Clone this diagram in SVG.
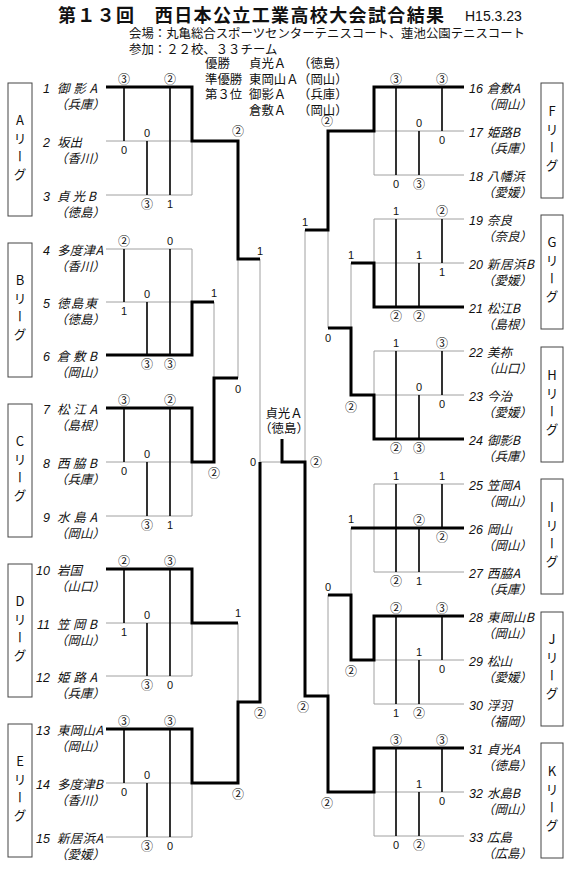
<svg xmlns="http://www.w3.org/2000/svg" width="570" height="872" viewBox="0 0 570 872">
<style>
.g{stroke:#a0a0a0;stroke-width:1;fill:none}
.k{stroke:#000;stroke-width:3;fill:none;stroke-linejoin:miter}
.m{stroke:#000;stroke-width:1.6;fill:none}
.bx{fill:#fff;stroke:#444;stroke-width:1}
text{fill:#111}
.h{font-family:"Noto Sans CJK JP",sans-serif;font-size:12.4px}
.ti{font-family:"Noto Sans CJK JP",sans-serif;font-size:18px;font-weight:bold}
.dt{font-family:"Liberation Sans",sans-serif;font-size:14px}
.nm{font-family:"Noto Sans CJK JP",sans-serif;font-size:12.5px;font-style:italic}
.no{font-family:"Liberation Sans",sans-serif;font-size:12.5px;font-style:italic}
.nl{text-anchor:end}
.ct{text-anchor:middle}
.c{font-family:"Noto Sans CJK JP",sans-serif;font-size:12px;text-anchor:middle}
.d{font-family:"Liberation Sans",sans-serif;font-size:11px;text-anchor:middle}
.lg{font-family:"Noto Sans CJK JP",sans-serif;font-size:13px;writing-mode:vertical-rl;text-orientation:upright;text-anchor:middle;letter-spacing:5px}
</style>

<g id="header">
<text class="ti" x="58" y="22" textLength="386" lengthAdjust="spacing">第１３回　西日本公立工業高校大会試合結果</text>
<text class="dt" x="465" y="21">H15.3.23</text>
<text class="h" x="129" y="38" textLength="396" lengthAdjust="spacing">会場：丸亀総合スポーツセンターテニスコート、蓮池公園テニスコート</text>
<text class="h" x="129" y="54">参加：２２校、３３チーム</text>
<text class="h" x="205" y="68">優勝</text><text class="h" x="249" y="68">貞光Ａ</text><text class="h" x="298" y="68">（徳島）</text>
<text class="h" x="205" y="83.7">準優勝</text><text class="h" x="249" y="83.7">東岡山Ａ</text><text class="h" x="298" y="83.7">（岡山）</text>
<text class="h" x="205" y="98.7">第３位</text><text class="h" x="249" y="98.7">御影Ａ</text><text class="h" x="298" y="98.7">（兵庫）</text>
<text class="h" x="249" y="114.7">倉敷Ａ</text><text class="h" x="298" y="114.7">（岡山）</text>
</g>

<g id="connectors">
<path class="g" d="M106,141H192M106,195H192M192,141V195M106,249H192M106,302H192M192,249V302M106,462H192M106,516H192M192,462V516M106,623H192M106,676H192M192,623V676M106,783H192M106,837H192M192,783V837M214,302V378M238,259V378M238,623V702M260,259V462H282"/>
<path class="g" d="M374,131H464M374,175H464M374,131V175M374,219H464M374,263H464M374,219V263M374,351H464M374,395H464M374,351V395M374,484H464M374,572H464M374,484V572M374,660H464M374,704H464M374,660V704M374,792H464M374,836H464M374,792V836M351,263V328M328,230V328M305,230V462M351,528V595M328,595V696"/>
<path class="m" d="M124,87V141M147,141V195M170,87V195M124,249V302M147,302V355M170,249V355M124,408V462M147,462V516M170,408V516M124,569V623M147,623V676M170,569V676M124,729V783M147,783V837M170,729V837"/>
<path class="m" d="M396,87V175M419,131V175M442,87V131M396,219V307M419,263V307M442,219V263M396,351V439M419,395V439M442,351V395M396,484V572M419,528V572M442,484V528M396,616V704M419,660V704M442,616V660M396,748V836M419,792V836M442,748V792"/>
<polyline class="k" points="106,87 192,87 192,141 238,141 238,259 260,259"/>
<polyline class="k" points="106,355 192,355 192,302 214,302"/>
<polyline class="k" points="106,408 192,408 192,462 214,462 214,378 238,378"/>
<polyline class="k" points="106,569 192,569 192,623 238,623"/>
<polyline class="k" points="106,729 192,729 192,783 238,783 238,702 260,702 260,462"/>
<polyline class="k" points="464,87 374,87 374,131 328,131 328,230 305,230"/>
<polyline class="k" points="464,307 374,307 374,263 351,263"/>
<polyline class="k" points="464,439 374,439 374,395 351,395 351,328 328,328"/>
<polyline class="k" points="464,528 351,528"/>
<polyline class="k" points="464,616 374,616 374,660 351,660 351,595 328,595"/>
<polyline class="k" points="464,748 374,748 374,792 328,792 328,696 305,696 305,462 282,462 282,439"/>
</g>

<g id="scores">
<text class="c" x="124" y="83.6">③</text><text class="d" x="124" y="154">0</text>
<text class="d" x="147" y="137">0</text><text class="c" x="147" y="208.6">③</text>
<text class="c" x="170" y="83.6">②</text><text class="d" x="170" y="208">1</text>
<text class="c" x="124" y="245.6">②</text><text class="d" x="124" y="315">1</text>
<text class="d" x="147" y="298">0</text><text class="c" x="147" y="368.6">③</text>
<text class="d" x="170" y="245">0</text><text class="c" x="170" y="368.6">③</text>
<text class="c" x="124" y="404.6">③</text><text class="d" x="124" y="475">0</text>
<text class="d" x="147" y="458">0</text><text class="c" x="147" y="529.6">③</text>
<text class="c" x="170" y="404.6">②</text><text class="d" x="170" y="529">1</text>
<text class="c" x="124" y="565.6">②</text><text class="d" x="124" y="636">1</text>
<text class="d" x="147" y="619">0</text><text class="c" x="147" y="689.6">③</text>
<text class="c" x="170" y="565.6">③</text><text class="d" x="170" y="689">0</text>
<text class="c" x="124" y="725.6">③</text><text class="d" x="124" y="796">0</text>
<text class="d" x="147" y="779">0</text><text class="c" x="147" y="850.6">③</text>
<text class="c" x="170" y="725.6">③</text><text class="d" x="170" y="850">0</text>

<text class="c" x="396" y="83.6">③</text><text class="d" x="396" y="188">0</text>
<text class="d" x="419" y="127">0</text><text class="c" x="419" y="188.6">③</text>
<text class="c" x="442" y="83.6">③</text><text class="d" x="442" y="144">0</text>
<text class="d" x="396" y="215">1</text><text class="c" x="396" y="320.6">②</text>
<text class="d" x="419" y="259">1</text><text class="c" x="419" y="320.6">②</text>
<text class="c" x="442" y="215.6">②</text><text class="d" x="442" y="276">1</text>
<text class="d" x="396" y="347">1</text><text class="c" x="396" y="452.6">②</text>
<text class="d" x="419" y="391">0</text><text class="c" x="419" y="452.6">③</text>
<text class="c" x="442" y="347.6">③</text><text class="d" x="442" y="408">0</text>
<text class="d" x="396" y="480">1</text><text class="c" x="396" y="585.6">②</text>
<text class="c" x="419" y="524.6">②</text><text class="d" x="419" y="585">1</text>
<text class="d" x="442" y="480">1</text><text class="c" x="442" y="541.6">②</text>
<text class="c" x="396" y="612.6">②</text><text class="d" x="396" y="717">1</text>
<text class="d" x="419" y="656">1</text><text class="c" x="419" y="717.6">②</text>
<text class="c" x="442" y="612.6">③</text><text class="d" x="442" y="673">0</text>
<text class="c" x="396" y="744.6">③</text><text class="d" x="396" y="849">0</text>
<text class="d" x="419" y="788">1</text><text class="c" x="419" y="849.6">②</text>
<text class="c" x="442" y="744.6">③</text><text class="d" x="442" y="805">0</text>

<text class="c" x="238" y="135.6">②</text>
<text class="d" x="214" y="297">1</text>
<text class="c" x="214" y="477.6">②</text>
<text class="d" x="238" y="393">0</text>
<text class="d" x="260" y="255">1</text>
<text class="d" x="238" y="617">1</text>
<text class="c" x="238" y="798.6">②</text>
<text class="c" x="260" y="717.6">②</text>
<text class="d" x="253" y="466">0</text>
<text class="c" x="316" y="466.6">②</text>
<text class="c" x="327" y="125.6">②</text>
<text class="d" x="305" y="226">1</text>
<text class="d" x="351" y="259">1</text>
<text class="c" x="351" y="411.6">②</text>
<text class="d" x="328" y="342">0</text>
<text class="d" x="351" y="523">1</text>
<text class="c" x="351" y="675.6">②</text>
<text class="d" x="328" y="591">0</text>
<text class="c" x="327" y="807.6">②</text>
<text class="c" x="303" y="711.6">②</text>
</g>

<g id="champion">
<text class="h ct" x="284" y="417.6">貞光Ａ</text>
<text class="h ct" x="284" y="432.6">（徳島）</text>
</g>

<g id="league-A"><rect class="bx" x="8" y="83" width="24" height="133"/><text class="lg" x="20" y="149.5">Aリーグ</text></g>
<g id="league-B"><rect class="bx" x="8" y="243" width="24" height="134"/><text class="lg" x="20" y="310">Bリーグ</text></g>
<g id="league-C"><rect class="bx" x="8" y="404" width="24" height="133"/><text class="lg" x="20" y="470.5">Cリーグ</text></g>
<g id="league-D"><rect class="bx" x="8" y="564" width="24" height="133"/><text class="lg" x="20" y="630.5">Dリーグ</text></g>
<g id="league-E"><rect class="bx" x="8" y="724" width="24" height="133"/><text class="lg" x="20" y="790.5">Eリーグ</text></g>
<g id="league-F"><rect class="bx" x="541" y="83" width="22" height="115"/><text class="lg" x="552" y="140.5">Fリーグ</text></g>
<g id="league-G"><rect class="bx" x="541" y="215" width="22" height="114"/><text class="lg" x="552" y="272">Gリーグ</text></g>
<g id="league-H"><rect class="bx" x="541" y="347" width="22" height="115"/><text class="lg" x="552" y="404.5">Hリーグ</text></g>
<g id="league-I"><rect class="bx" x="541" y="479" width="22" height="115"/><text class="lg" x="552" y="536.5">Iリーグ</text></g>
<g id="league-J"><rect class="bx" x="541" y="612" width="22" height="114"/><text class="lg" x="552" y="669">Jリーグ</text></g>
<g id="league-K"><rect class="bx" x="541" y="743" width="22" height="115"/><text class="lg" x="552" y="800.5">Kリーグ</text></g>

<g id="team-1"><text class="no nl" x="50" y="93">1</text><text class="nm" x="57" y="93" textLength="40">御影A</text><text class="nm" x="55" y="108.5">（兵庫）</text></g>
<g id="team-2"><text class="no nl" x="50" y="147">2</text><text class="nm" x="57" y="147">坂出</text><text class="nm" x="55" y="162.5">（香川）</text></g>
<g id="team-3"><text class="no nl" x="50" y="201">3</text><text class="nm" x="57" y="201" textLength="39">貞光B</text><text class="nm" x="55" y="216.5">（徳島）</text></g>
<g id="team-4"><text class="no nl" x="50" y="255">4</text><text class="nm" x="57" y="255" textLength="46">多度津A</text><text class="nm" x="55" y="270.5">（香川）</text></g>
<g id="team-5"><text class="no nl" x="50" y="308">5</text><text class="nm" x="57" y="308" textLength="40">徳島東</text><text class="nm" x="55" y="323.5">（徳島）</text></g>
<g id="team-6"><text class="no nl" x="50" y="361">6</text><text class="nm" x="57" y="361" textLength="40">倉敷B</text><text class="nm" x="55" y="376.5">（岡山）</text></g>
<g id="team-7"><text class="no nl" x="50" y="414">7</text><text class="nm" x="57" y="414" textLength="40">松江A</text><text class="nm" x="55" y="429.5">（島根）</text></g>
<g id="team-8"><text class="no nl" x="50" y="468">8</text><text class="nm" x="57" y="468" textLength="40">西脇B</text><text class="nm" x="55" y="483.5">（兵庫）</text></g>
<g id="team-9"><text class="no nl" x="50" y="522">9</text><text class="nm" x="57" y="522" textLength="40">水島A</text><text class="nm" x="55" y="537.5">（岡山）</text></g>
<g id="team-10"><text class="no nl" x="50" y="575">10</text><text class="nm" x="57" y="575">岩国</text><text class="nm" x="55" y="590.5">（山口）</text></g>
<g id="team-11"><text class="no nl" x="50" y="629">11</text><text class="nm" x="57" y="629" textLength="40">笠岡B</text><text class="nm" x="55" y="644.5">（岡山）</text></g>
<g id="team-12"><text class="no nl" x="50" y="682">12</text><text class="nm" x="57" y="682" textLength="40">姫路A</text><text class="nm" x="55" y="697.5">（兵庫）</text></g>
<g id="team-13"><text class="no nl" x="50" y="735">13</text><text class="nm" x="57" y="735" textLength="46">東岡山A</text><text class="nm" x="55" y="750.5">（岡山）</text></g>
<g id="team-14"><text class="no nl" x="50" y="789">14</text><text class="nm" x="57" y="789" textLength="46">多度津B</text><text class="nm" x="55" y="804.5">（香川）</text></g>
<g id="team-15"><text class="no nl" x="50" y="843">15</text><text class="nm" x="57" y="843" textLength="46">新居浜A</text><text class="nm" x="55" y="858.5">（愛媛）</text></g>

<g id="team-16"><text class="no" x="469" y="93">16</text><text class="nm" x="487" y="93" textLength="33">倉敷A</text><text class="nm" x="482" y="108.5">（岡山）</text></g>
<g id="team-17"><text class="no" x="469" y="137">17</text><text class="nm" x="487" y="137" textLength="33">姫路B</text><text class="nm" x="482" y="152.5">（兵庫）</text></g>
<g id="team-18"><text class="no" x="469" y="181">18</text><text class="nm" x="487" y="181">八幡浜</text><text class="nm" x="482" y="196.5">（愛媛）</text></g>
<g id="team-19"><text class="no" x="469" y="225">19</text><text class="nm" x="487" y="225">奈良</text><text class="nm" x="482" y="240.5">（奈良）</text></g>
<g id="team-20"><text class="no" x="469" y="269">20</text><text class="nm" x="487" y="269" textLength="47">新居浜B</text><text class="nm" x="482" y="284.5">（愛媛）</text></g>
<g id="team-21"><text class="no" x="469" y="313">21</text><text class="nm" x="487" y="313" textLength="33">松江B</text><text class="nm" x="482" y="328.5">（島根）</text></g>
<g id="team-22"><text class="no" x="469" y="357">22</text><text class="nm" x="487" y="357">美祢</text><text class="nm" x="482" y="372.5">（山口）</text></g>
<g id="team-23"><text class="no" x="469" y="401">23</text><text class="nm" x="487" y="401">今治</text><text class="nm" x="482" y="416.5">（愛媛）</text></g>
<g id="team-24"><text class="no" x="469" y="445">24</text><text class="nm" x="487" y="445" textLength="33">御影B</text><text class="nm" x="482" y="460.5">（兵庫）</text></g>
<g id="team-25"><text class="no" x="469" y="490">25</text><text class="nm" x="487" y="490" textLength="33">笠岡A</text><text class="nm" x="482" y="505.5">（岡山）</text></g>
<g id="team-26"><text class="no" x="469" y="534">26</text><text class="nm" x="487" y="534">岡山</text><text class="nm" x="482" y="549.5">（岡山）</text></g>
<g id="team-27"><text class="no" x="469" y="578">27</text><text class="nm" x="487" y="578" textLength="33">西脇A</text><text class="nm" x="482" y="593.5">（兵庫）</text></g>
<g id="team-28"><text class="no" x="469" y="622">28</text><text class="nm" x="487" y="622" textLength="47">東岡山B</text><text class="nm" x="482" y="637.5">（岡山）</text></g>
<g id="team-29"><text class="no" x="469" y="666">29</text><text class="nm" x="487" y="666">松山</text><text class="nm" x="482" y="681.5">（愛媛）</text></g>
<g id="team-30"><text class="no" x="469" y="710">30</text><text class="nm" x="487" y="710">浮羽</text><text class="nm" x="482" y="725.5">（福岡）</text></g>
<g id="team-31"><text class="no" x="469" y="754">31</text><text class="nm" x="487" y="754" textLength="33">貞光A</text><text class="nm" x="482" y="769.5">（徳島）</text></g>
<g id="team-32"><text class="no" x="469" y="798">32</text><text class="nm" x="487" y="798" textLength="33">水島B</text><text class="nm" x="482" y="813.5">（岡山）</text></g>
<g id="team-33"><text class="no" x="469" y="842">33</text><text class="nm" x="487" y="842">広島</text><text class="nm" x="482" y="857.5">（広島）</text></g>
</svg>
